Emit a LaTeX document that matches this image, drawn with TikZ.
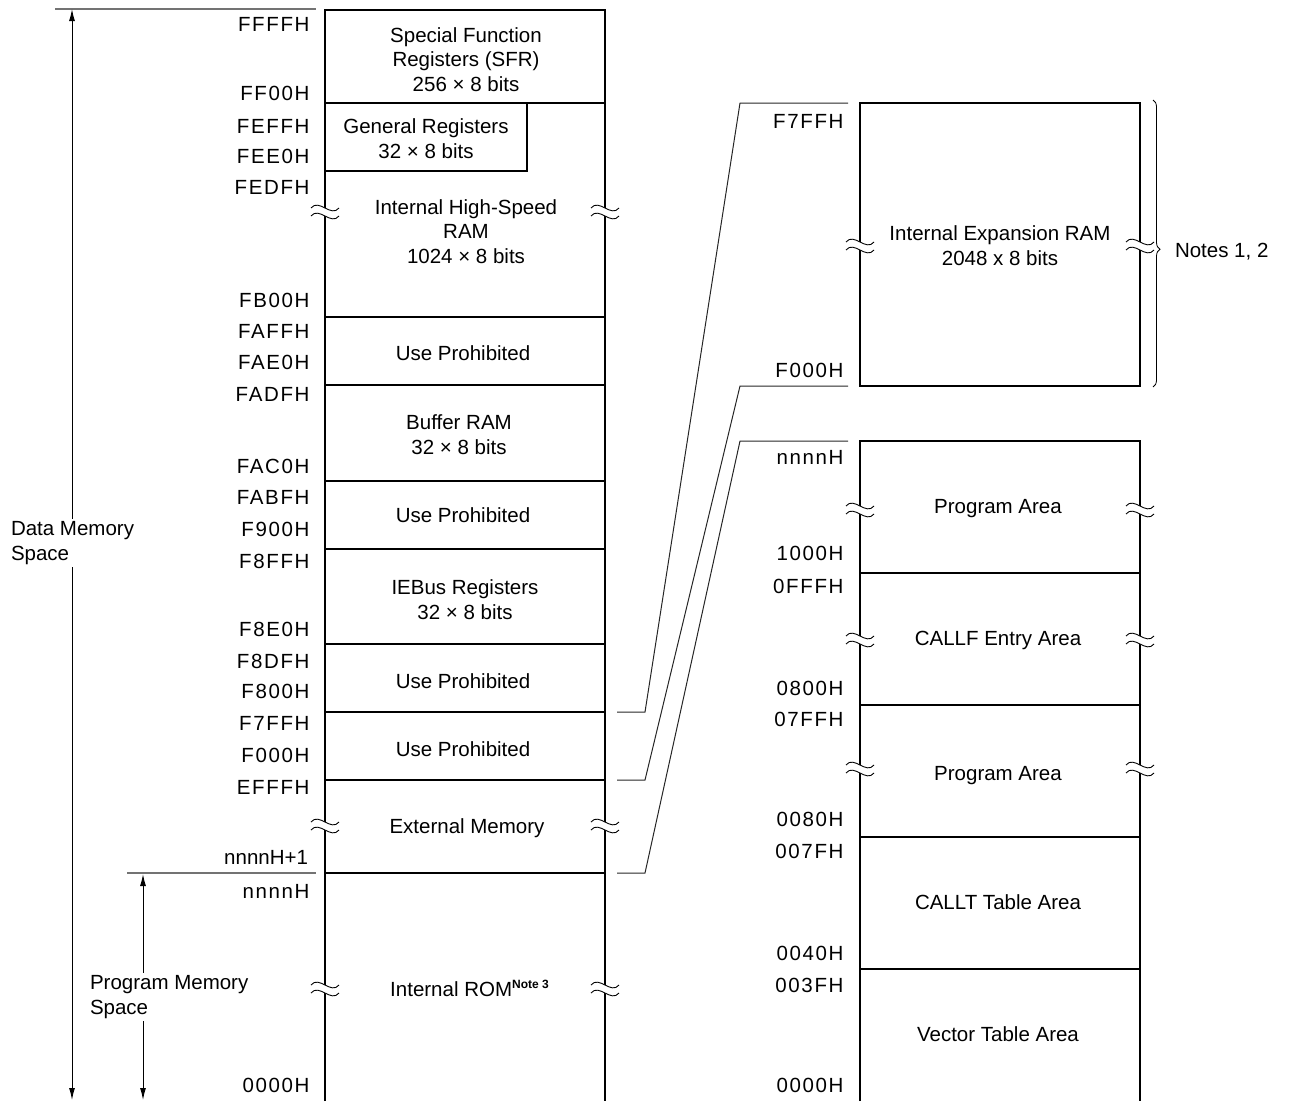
\documentclass[tikz,border=0pt]{standalone}
\usepackage{fontspec}
\setmainfont{Liberation Sans}
\newfontfamily\addrfont[LetterSpace=8]{Liberation Sans}
\usetikzlibrary{arrows.meta,decorations.pathreplacing}
\tikzset{
  every node/.style={inner sep=0pt, outer sep=0pt, font=\fontsize{20.5}{24.5}\selectfont},
  lbl/.style={align=center},
  one/.style={anchor=base},
  addr/.style={anchor=base east, font=\fontsize{20.5}{24.5}\selectfont\addrfont},
  plainaddr/.style={anchor=base east},
  border/.style={line width=2.2pt},
  divider/.style={line width=1.1pt},
  conn/.style={line width=1pt, black!85},
  extline/.style={line width=1.3pt, black!55},
  dimarrow/.style={line width=1pt, {Latex[length=12pt,width=6pt]}-{Latex[length=12pt,width=6pt]}},
  spacelbl/.style={align=left, anchor=west, fill=white, inner sep=3pt},
  brk/.pic={
    \fill[white] (-14,-4) .. controls (-6,-14) and (6,6) .. (14,-4) -- (14,4) .. controls (6,14) and (-6,-6) .. (-14,4) -- cycle;
    \draw[line width=0.9pt] (-14,-4) .. controls (-6,-14) and (6,6) .. (14,-4);
    \draw[line width=0.9pt] (-14,4) .. controls (-6,-6) and (6,14) .. (14,4);
  }
}
\begin{document}
\begin{tikzpicture}[x=1pt,y=-1pt]
\useasboundingbox (0,0) rectangle (1289,1101);

% ---------- left memory map ----------
\draw[border] (325,1101) -- (325,10) -- (605,10) -- (605,1101);
\foreach \yy in {103,317,385,481,549,644,712,780,873}
  \draw[divider] (325,\yy) -- (605,\yy);
\draw[divider] (325,171) -- (527,171) -- (527,103);

\node[lbl] (sfr) at (466,59.5) {Special Function\\Registers (SFR)\\256 × 8 bits};
\node[lbl] (genreg) at (426,138.5) {General Registers\\32 × 8 bits};
\node[lbl] (ihsram) at (466,231.5) {Internal High-Speed\\RAM\\1024 × 8 bits};
\node[one] (up1) at (463,360.3) {Use Prohibited};
\node[lbl] (bufram) at (459,434.5) {Buffer RAM\\32 × 8 bits};
\node[one] (up2) at (463,522.3) {Use Prohibited};
\node[lbl] (iebus) at (465,599.5) {IEBus Registers\\32 × 8 bits};
\node[one] (up3) at (463,688.3) {Use Prohibited};
\node[one] (up4) at (463,756.3) {Use Prohibited};
\node[one] (extmem) at (467,833.3) {External Memory};
\node[one] (irom) at (469.5,996.3) {Internal ROM\raisebox{8pt}{\fontsize{12}{12}\selectfont\bfseries Note 3}};

% left addresses
\node[addr] (aFFFF) at (309.5,31.3) {FFFFH};
\node[addr] (aFF00) at (309.5,100.3) {FF00H};
\node[addr] (aFEFF) at (309.5,133.3) {FEFFH};
\node[addr] (aFEE0) at (309.5,163.3) {FEE0H};
\node[addr] (aFEDF) at (309.5,194.3) {FEDFH};
\node[addr] (aFB00) at (309.5,307.3) {FB00H};
\node[addr] (aFAFF) at (309.5,338.3) {FAFFH};
\node[addr] (aFAE0) at (309.5,369.3) {FAE0H};
\node[addr] (aFADF) at (309.5,401.3) {FADFH};
\node[addr] (aFAC0) at (309.5,473.3) {FAC0H};
\node[addr] (aFABF) at (309.5,504.3) {FABFH};
\node[addr] (aF900) at (309.5,536.3) {F900H};
\node[addr] (aF8FF) at (309.5,568.3) {F8FFH};
\node[addr] (aF8E0) at (309.5,636.3) {F8E0H};
\node[addr] (aF8DF) at (309.5,668.3) {F8DFH};
\node[addr] (aF800) at (309.5,698.3) {F800H};
\node[addr] (aF7FF) at (309.5,730.3) {F7FFH};
\node[addr] (aF000) at (309.5,762.3) {F000H};
\node[addr] (aEFFF) at (309.5,794.3) {EFFFH};
\node[plainaddr] (annp1) at (308,864.3) {nnnnH+1};
\node[addr] (annnn) at (309.5,898.3) {nnnnH};
\node[addr] (a0000) at (309.5,1092.3) {0000H};

% ---------- expansion RAM ----------
\draw[border] (860,103) rectangle (1140,386);
\node[lbl] (expram) at (1000,245.5) {Internal Expansion RAM\\2048 x 8 bits};
\node[addr] (bF7FF) at (843.5,128.3) {F7FFH};
\node[addr] (bF000) at (843.5,377.3) {F000H};
\draw[line width=0.8pt, decorate, decoration={brace, amplitude=7pt, aspect=0.52}] (1153,100) -- (1153,387);
\node[anchor=base west] (notes) at (1175,257) {Notes 1, 2};

% ---------- program memory detail ----------
\draw[border] (860,1101) -- (860,441) -- (1140,441) -- (1140,1101);
\foreach \yy in {573,705,837,969}
  \draw[divider] (860,\yy) -- (1140,\yy);
\node[one] (pa1) at (998,513.3) {Program Area};
\node[one] (callf) at (998,645.3) {CALLF Entry Area};
\node[one] (pa2) at (998,780.3) {Program Area};
\node[one] (callt) at (998,909.3) {CALLT Table Area};
\node[one] (vect) at (998,1041.3) {Vector Table Area};
\node[addr] (cnnnn) at (843.5,464.3) {nnnnH};
\node[addr] (c1000) at (843.5,560.3) {1000H};
\node[addr] (c0FFF) at (843.5,593.3) {0FFFH};
\node[addr] (c0800) at (843.5,695.3) {0800H};
\node[addr] (c07FF) at (843.5,726.8) {07FFH};
\node[addr] (c0080) at (843.5,826.3) {0080H};
\node[addr] (c007F) at (843.5,858.3) {007FH};
\node[addr] (c0040) at (843.5,960.3) {0040H};
\node[addr] (c003F) at (843.5,992.3) {003FH};
\node[addr] (c0000) at (843.5,1092.3) {0000H};

% ---------- break marks ----------
\foreach \bx/\by in {325/212,605/212,325/826,605/826,325/989,605/989,
                     860/246,1140/246,860/510,1140/510,860/640,1140/640,860/769,1140/769}
  \pic at (\bx,\by) {brk};

% ---------- connectors ----------
\coordinate (p1) at (617,712); \coordinate (q1) at (645,712);
\coordinate (r1) at (740,103); \coordinate (s1) at (848,103);
\coordinate (p2) at (617,780); \coordinate (q2) at (645,780);
\coordinate (r2) at (740,386); \coordinate (s2) at (848,386);
\coordinate (p3) at (617,873); \coordinate (q3) at (645,873);
\coordinate (r3) at (740,441); \coordinate (s3) at (848,441);
\draw[conn] (p1) -- (q1) -- (r1) -- (s1);
\draw[conn] (p2) -- (q2) -- (r2) -- (s2);
\draw[conn] (p3) -- (q3) -- (r3) -- (s3);

% ---------- space arrows ----------
\coordinate (dl) at (55,9); \coordinate (dr) at (316,9);
\draw[extline] (dl) -- (dr);
\coordinate (pl) at (127,873); \coordinate (pr) at (316,873);
\draw[extline] (pl) -- (pr);
\coordinate (dtop) at (72,9); \coordinate (dbot) at (72,1100);
\draw[dimarrow] (dtop) -- (dbot);
\coordinate (ptop) at (143,874); \coordinate (pbot) at (143,1100);
\draw[dimarrow] (ptop) -- (pbot);
\node[spacelbl] (dms) at (8,543) {Data Memory\\Space};
\node[spacelbl] (pms) at (87,997) {Program Memory\\Space};
\end{tikzpicture}
\end{document}
